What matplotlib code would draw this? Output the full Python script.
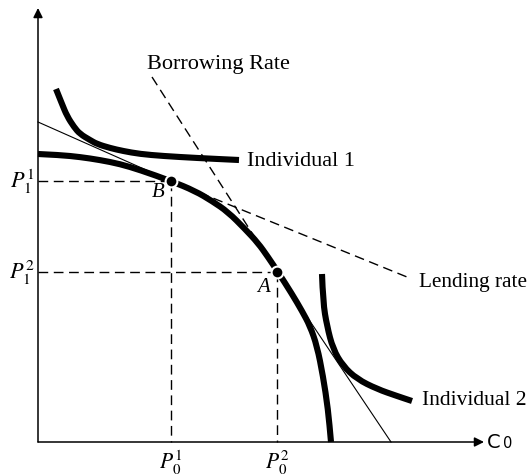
import matplotlib
matplotlib.use("Agg")
import matplotlib.pyplot as plt
from matplotlib.path import Path
from matplotlib.patches import PathPatch

plt.rcParams['font.family'] = ['Liberation Serif', 'DejaVu Serif']
plt.rcParams['mathtext.fontset'] = 'stix'

# Data (units: horizontal / vertical distance from origin)
frontier_x = [0, 22, 42, 62, 82, 102, 133, 157, 174, 190, 207, 220, 230, 240, 254, 264, 272, 279, 285, 290, 293]
frontier_y = [288, 287, 285, 282, 278, 272, 261, 251, 241, 230, 213, 199, 185, 170, 148, 131, 116, 96, 66, 33, 0]

indiv1_x = [18, 24, 29, 36, 42, 52, 59, 72, 85, 102, 125, 159, 201]
indiv1_y = [353, 338, 326, 315, 308, 302, 298, 294, 291, 288, 286, 284, 282]

indiv2_x = [284, 285, 289, 295, 305, 319, 339, 359, 374]
indiv2_y = [168, 140, 116, 93, 76, 63, 53, 46, 41]

point_B = (133, 261)
point_A = (239, 170)

borrow_start = (114, 365)
borrow_end = (353, 0)
lend_start = (0, 320)
lend_end = (369, 165)

labels_x = [r'$P_0^1$', r'$P_0^2$']
labels_y = [r'$P_1^1$', r'$P_1^2$']

fig = plt.figure(figsize=(5.31, 4.77), dpi=100)
ax = fig.add_axes([0, 0, 1, 1])
ax.set_xlim(-38, 493)
ax.set_ylim(-34, 443)
ax.axis('off')


def smooth_curve(xs, ys, **kw):
    pts = list(zip(xs, ys))
    verts = [pts[0]]
    codes = [Path.MOVETO]
    for i in range(1, len(pts) - 1):
        mid = ((pts[i][0] + pts[i + 1][0]) / 2, (pts[i][1] + pts[i + 1][1]) / 2)
        verts += [pts[i], mid]
        codes += [Path.CURVE3, Path.CURVE3]
    verts.append(pts[-1])
    codes.append(Path.LINETO)
    ax.add_patch(PathPatch(Path(verts, codes), fill=False, **kw))


# axes with arrows
ax.annotate('', xy=(0, 434), xytext=(0, 0),
            arrowprops=dict(arrowstyle='-|>', lw=1.1, color='black', mutation_scale=14,
                            shrinkA=0, shrinkB=0))
ax.annotate('', xy=(446, 0), xytext=(0, 0),
            arrowprops=dict(arrowstyle='-|>', lw=1.1, color='black', mutation_scale=14,
                            shrinkA=0, shrinkB=0))
ax.text(449, 0, 'C', fontsize=14, family=['DejaVu Sans'], ha='left', va='center')
ax.text(465, -1, '0', fontsize=10.5, family=['DejaVu Sans'], ha='left', va='center')

dash = (0, (7, 4))
# guide lines
for (px, py) in [point_B, point_A]:
    ax.plot([0, px], [py, py], color='black', lw=1.0, linestyle=dash)
    ax.plot([px, px], [py, 0], color='black', lw=1.0, linestyle=dash)

# lending line: solid to B, dashed after
ax.plot([lend_start[0], point_B[0]], [lend_start[1], point_B[1]], color='black', lw=0.8)
ax.plot([point_B[0], lend_end[0]], [point_B[1], lend_end[1]], color='black', lw=1.0, linestyle=dash)
# borrowing line: dashed to A, solid after
ax.plot([borrow_start[0], point_A[0]], [borrow_start[1], point_A[1]], color='black', lw=1.0, linestyle=dash)
ax.plot([point_A[0], borrow_end[0]], [point_A[1], borrow_end[1]], color='black', lw=0.8)

# thick curves
for xs, ys in [(frontier_x, frontier_y), (indiv1_x, indiv1_y), (indiv2_x, indiv2_y)]:
    smooth_curve(xs, ys, edgecolor='black', lw=4.4, capstyle='butt', joinstyle='round')

# points
for (px, py) in [point_B, point_A]:
    ax.plot(px, py, 'o', color='black', markersize=8.5, markeredgecolor='white', markeredgewidth=1.5, zorder=5)

fs = 16
ax.text(109, 378, 'Borrowing Rate', fontsize=fs, ha='left', va='center')
ax.text(209, 281, 'Individual 1', fontsize=fs, ha='left', va='center')
ax.text(381, 161, 'Lending rate', fontsize=15.3, ha='left', va='center')
ax.text(384, 42, 'Individual 2', fontsize=15.5, ha='left', va='center')

ax.text(120, 250, 'B', fontsize=15, style='italic', ha='center', va='center')
ax.text(226, 156, 'A', fontsize=15, style='italic', ha='center', va='center')

ax.text(-4, point_B[1], labels_y[0], fontsize=16, ha='right', va='center')
ax.text(-4, point_A[1], labels_y[1], fontsize=16, ha='right', va='center')
ax.text(point_B[0], -20, labels_x[0], fontsize=15.5, ha='center', va='center')
ax.text(point_A[0], -20, labels_x[1], fontsize=15.5, ha='center', va='center')

fig.savefig('out.png', dpi=100)
